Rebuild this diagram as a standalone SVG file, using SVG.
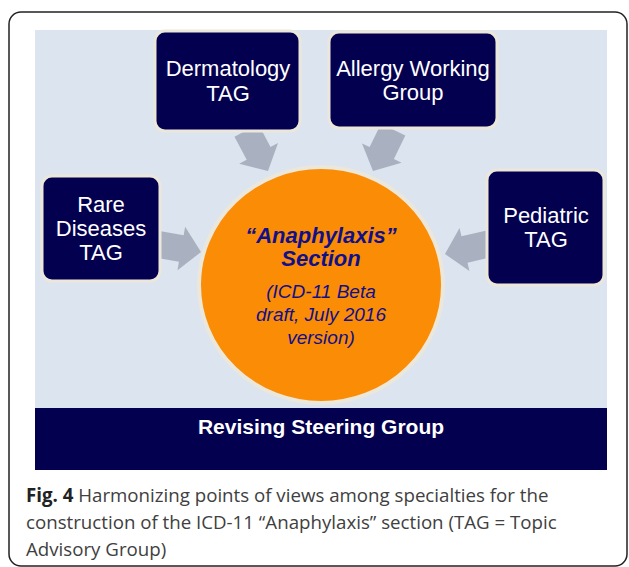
<svg xmlns="http://www.w3.org/2000/svg" width="629" height="567" viewBox="0 0 629 567">
<style>
.box{fill:#030050;stroke:#ebe7db;stroke-width:3}
.bt{font-family:"Liberation Sans",Arial,sans-serif;font-size:22px;fill:#ffffff;text-anchor:middle}
.arr{fill:#a9b0bf}
.ct{font-family:"Liberation Sans",Arial,sans-serif;fill:#10108a;text-anchor:middle;font-style:italic}
.cap{font-family:"Open Sans","Noto Sans",sans-serif;font-size:18.7px;fill:#404040}
</style>
<defs>
<polygon id="ar" points="-46,-13.5 -20,-13.5 -20,-22 0,0 -20,22 -20,13.5 -46,13.5"/>
</defs>
<rect x="9" y="12" width="618" height="554" rx="12" fill="#fff" stroke="#222" stroke-width="1.5"/>
<rect x="35" y="30" width="572" height="378" fill="#dbe4ef"/>
<g id="connectors" class="arr">
<use href="#ar" transform="translate(268,171) rotate(62)"/>
<use href="#ar" transform="translate(373,171) rotate(116)"/>
<use href="#ar" transform="translate(201,252) rotate(10)"/>
<use href="#ar" transform="translate(445,254) rotate(167)"/>
</g>
<g id="steering">
<rect x="35" y="408" width="572" height="62" fill="#030050"/>
<text x="321" y="434" font-family="'Liberation Sans',Arial,sans-serif" font-size="21" font-weight="bold" fill="#fff" text-anchor="middle">Revising Steering Group</text>
</g>
<g id="anaphylaxis">
<ellipse cx="321" cy="285" rx="122" ry="118" fill="#fb8c06" stroke="#ebe7db" stroke-width="4"/>
<text class="ct" x="321" y="243" font-size="22" font-weight="bold">“Anaphylaxis”</text>
<text class="ct" x="321" y="266" font-size="22" font-weight="bold">Section</text>
<text class="ct" x="321" y="298" font-size="19">(ICD-11 Beta</text>
<text class="ct" x="321" y="321" font-size="19">draft, July 2016</text>
<text class="ct" x="321" y="344" font-size="19">version)</text>
</g>
<g id="dermatology">
<rect class="box" x="155" y="31" width="145" height="100" rx="10"/>
<text class="bt" x="228" y="76">Dermatology</text>
<text class="bt" x="228" y="101">TAG</text>
</g>
<g id="allergy">
<rect class="box" x="329" y="32" width="168" height="96" rx="10"/>
<text class="bt" x="413" y="76">Allergy Working</text>
<text class="bt" x="413" y="100">Group</text>
</g>
<g id="rare">
<rect class="box" x="42" y="176" width="118" height="105" rx="10"/>
<text class="bt" x="101" y="212">Rare</text>
<text class="bt" x="101" y="236">Diseases</text>
<text class="bt" x="101" y="260">TAG</text>
</g>
<g id="pediatric">
<rect class="box" x="487" y="170" width="117" height="115" rx="10"/>
<text class="bt" x="546" y="223">Pediatric</text>
<text class="bt" x="546" y="247">TAG</text>
</g>
<g id="caption" class="cap">
<text x="26" y="502"><tspan font-weight="bold" fill="#222">Fig. 4</tspan> Harmonizing points of views among specialties for the</text>
<text x="26" y="529">construction of the ICD-11 “Anaphylaxis” section (TAG = Topic</text>
<text x="26" y="556">Advisory Group)</text>
</g>
</svg>
